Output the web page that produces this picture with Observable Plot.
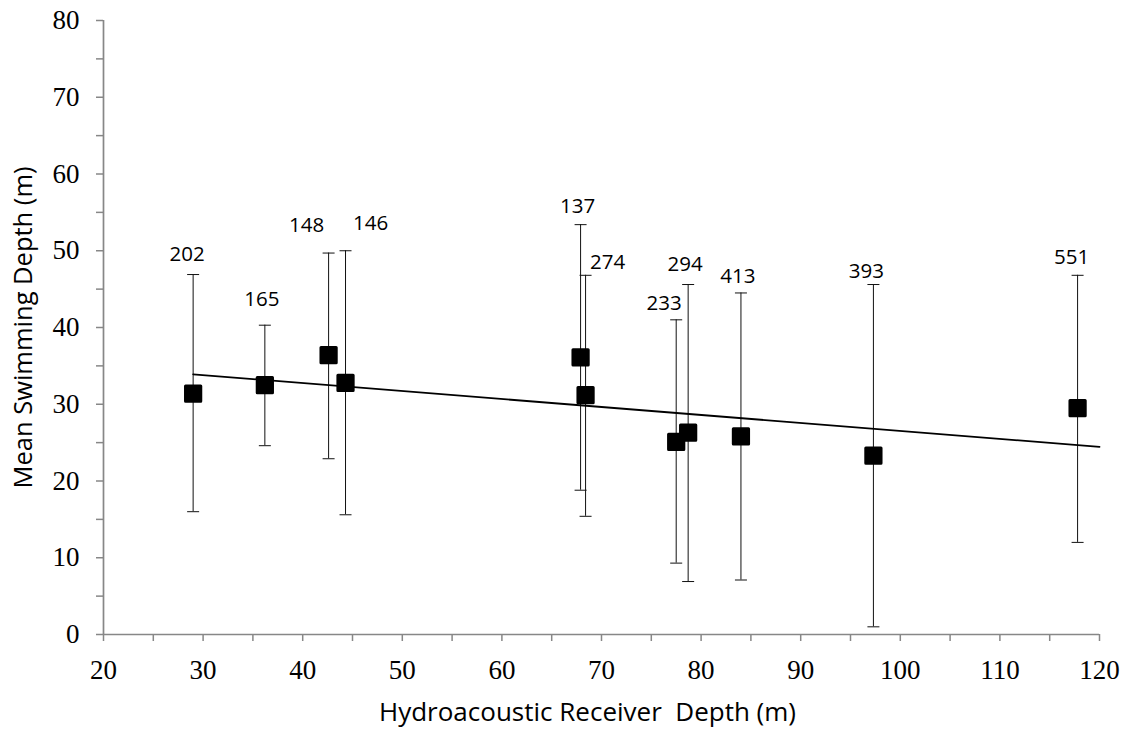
<!DOCTYPE html>
<html><head><meta charset="utf-8">
<script src="https://cdn.jsdelivr.net/npm/d3@7"></script>
<script src="https://cdn.jsdelivr.net/npm/@observablehq/plot@0.6"></script>
<style>body{margin:0;background:#fff}</style>
</head><body><div id="chart"></div>
<script>
// ---- data ----
const receiverDepth = [29.0, 36.2, 42.6, 44.3, 67.9, 68.4, 77.5, 78.7, 84.0, 97.3, 117.8];
const meanDepth     = [31.4, 32.5, 36.4, 32.8, 36.1, 31.2, 25.1, 26.3, 25.8, 23.3, 29.5];
const upperDepth    = [46.9, 40.3, 49.7, 50.0, 53.4, 46.8, 41.0, 45.6, 44.5, 45.6, 46.8];
const lowerDepth    = [16.0, 24.6, 22.9, 15.6, 18.8, 15.4,  9.3,  6.9,  7.1,  1.0, 12.0];
const sampleSize    = ["202","165","148","146","137","274","233","294","413","393","551"];
const trendX = [29.0, 120];
const trendY = [33.9, 24.45];
const xTicks = d3.range(20, 121, 5);
const yTicks = d3.range(0, 81, 5);

// ---- layout (pixel nudges for the hand-placed count labels) ----
const labelNudge = [[-6,-20],[-3,-26],[-22,-28],[25,-27],[-3,-18],[22,-13],[-12,-16],[-3,-20],[-3,-17],[-7,-13],[-6,-18]];

const pts = receiverDepth.map((x, i) => ({x, y: meanDepth[i], hi: upperDepth[i], lo: lowerDepth[i], n: sampleSize[i]}));
const trend = trendX.map((x, i) => ({x, y: trendY[i]}));

const capSymbol = {draw(ctx) { ctx.moveTo(-6, 0); ctx.lineTo(6, 0); }};
const axisGray = "#878787";
const serif = "Liberation Serif";
const sans = "Open Sans";

const chart = Plot.plot({
  width: 1127,
  height: 730,
  marginLeft: 103,
  marginRight: 28,
  marginTop: 20,
  marginBottom: 96,
  style: {fontFamily: serif, fontSize: "27px", background: "#fff", color: "#000"},
  x: {domain: [20, 120]},
  y: {domain: [0, 80]},
  marks: [
    Plot.axisX({ticks: xTicks, tickSize: 7, tickPadding: 18, tickFormat: d => d % 10 ? "" : d, stroke: axisGray, strokeWidth: 1.5, fill: "#000", fontFamily: serif, fontSize: 27, label: null}),
    Plot.axisY({ticks: yTicks, tickSize: 7, tickPadding: 17, tickFormat: d => d % 10 ? "" : d, stroke: axisGray, strokeWidth: 1.5, fill: "#000", fontFamily: serif, fontSize: 27, label: null}),
    Plot.ruleY([0], {stroke: axisGray, strokeWidth: 1.7}),
    Plot.ruleX([20], {stroke: axisGray, strokeWidth: 1.7}),
    Plot.ruleX(pts, {x: "x", y1: "lo", y2: "hi", stroke: "#111", strokeWidth: 1}),
    Plot.dot(pts, {x: "x", y: "hi", symbol: capSymbol, stroke: "#111", strokeWidth: 1, fill: "none", r: 5}),
    Plot.dot(pts, {x: "x", y: "lo", symbol: capSymbol, stroke: "#111", strokeWidth: 1, fill: "none", r: 5}),
    Plot.line(trend, {x: "x", y: "y", stroke: "#000", strokeWidth: 1.8}),
    Plot.dot(pts, {x: "x", y: "y", symbol: "square", r: 8.6, fill: "#000", stroke: "#000", strokeWidth: 3, strokeLinejoin: "round"}),
    ...pts.map((d, i) => Plot.text([d], {x: "x", y: "hi", text: "n", dx: labelNudge[i][0], dy: labelNudge[i][1], fontFamily: sans, fontSize: 20.5, fill: "#000", lineAnchor: "middle"})),
    Plot.text([0], {frameAnchor: "bottom", text: () => "Hydroacoustic Receiver\u00a0 Depth (m)", dy: 78, dx: -14, textAnchor: "middle", fontFamily: sans, fontSize: 26, fill: "#000", lineAnchor: "middle"}),
    Plot.text([0], {frameAnchor: "left", text: () => "Mean Swimming Depth (m)", dx: -80, rotate: -90, textAnchor: "middle", fontFamily: sans, fontSize: 25.5, fill: "#000", lineAnchor: "middle"})
  ]
});
document.getElementById("chart").append(chart);
</script>
</body></html>
